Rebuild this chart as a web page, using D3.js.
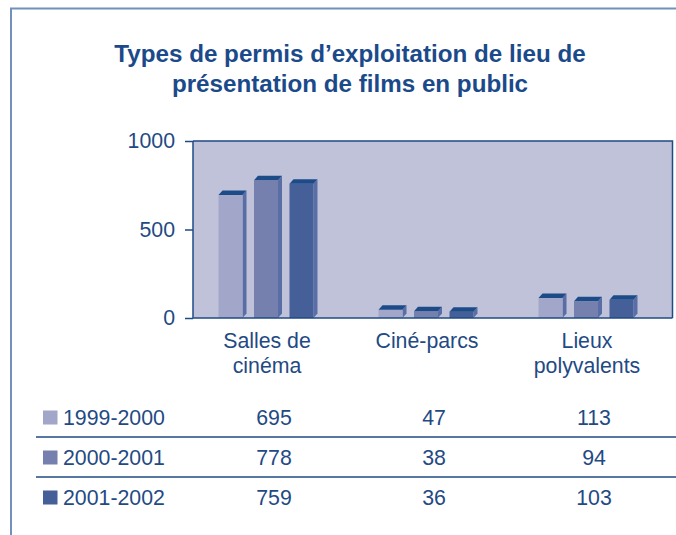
<!DOCTYPE html>
<html>
<head>
<meta charset="utf-8">
<script src="https://cdn.jsdelivr.net/npm/d3@7"></script>
<style>
  body { margin: 0; background: #fff; }
  svg { display: block; font-family: "Liberation Sans", Arial, Helvetica, sans-serif; }
</style>
</head>
<body>
<div id="chart"></div>
<script>
// data
var categories = ["Salles de cinéma", "Ciné-parcs", "Lieux polyvalents"];
var categoryLines = [["Salles de", "cinéma"], ["Ciné-parcs"], ["Lieux", "polyvalents"]];
var seasons = ["1999-2000", "2000-2001", "2001-2002"];
var values1999 = [695, 47, 113];
var values2000 = [778, 38, 94];
var values2001 = [759, 36, 103];
var yTicks = [0, 500, 1000];

var series = [values1999, values2000, values2001];

var W = 676, H = 535;
var ink = "#1f4a84";
var fs = "21.3px";
var color = d3.scaleOrdinal().domain(seasons).range(["#a2a6c9", "#7680ae", "#455f98"]);
var sideColor = "#5a6ea6", topColor = "#1d4b88";

var svg = d3.select("#chart").append("svg")
    .attr("width", W)
    .attr("height", H);

// outer frame (top + left)
svg.append("path")
    .attr("d", "M11,535 L11,8.5 L676,8.5")
    .attr("fill", "none")
    .attr("stroke", "#7190bb")
    .attr("stroke-width", 2);

// title
var title = svg.append("text")
    .attr("text-anchor", "middle")
    .attr("fill", "#1b4a8a")
    .style("font-weight", "bold")
    .style("font-size", "24.2px");
title.append("tspan").attr("x", 350).attr("y", 62).text("Types de permis d’exploitation de lieu de");
title.append("tspan").attr("x", 350).attr("y", 92).text("présentation de films en public");

var plot = {left: 193, right: 672.5, top: 141, bottom: 318};

var x0 = d3.scaleBand().domain(categories).range([186, 666]);
var x1 = d3.scalePoint().domain(seasons).range([-35.5, 35.5]);
var y = d3.scaleLinear().domain([0, 1000]).range([plot.bottom, plot.top]);

var barW = 24, dx = 4, dy = 4.5;

// plot background + border
svg.append("rect")
    .attr("x", plot.left).attr("y", plot.top)
    .attr("width", plot.right - plot.left).attr("height", plot.bottom - plot.top)
    .attr("fill", "#c0c2da");
svg.append("path")
    .attr("d", "M" + plot.left + "," + plot.top + " L" + plot.right + "," + plot.top +
               " L" + plot.right + "," + plot.bottom)
    .attr("fill", "none").attr("stroke", ink).attr("stroke-width", 1.5);

// bars with a little 3d look
seasons.forEach(function (s, j) {
    var g = svg.append("g").attr("class", "series");
    categories.forEach(function (c, i) {
        var v = series[j][i];
        var bx = x0(c) + x0.bandwidth() / 2 + x1(s) - barW / 2;
        var by = y(v), b0 = y(0);
        g.append("polygon")
            .attr("points", [[bx + barW, by], [bx + barW + dx, by - dy], [bx + barW + dx, b0 - dy], [bx + barW, b0]].join(" "))
            .attr("fill", sideColor);
        g.append("rect")
            .attr("x", bx).attr("y", by)
            .attr("width", barW).attr("height", b0 - by)
            .attr("fill", color(s));
        g.append("polygon")
            .attr("points", [[bx, by], [bx + dx, by - dy], [bx + barW + dx, by - dy], [bx + barW, by]].join(" "))
            .attr("fill", topColor);
    });
});

// y axis
var yAxis = svg.append("g")
    .attr("transform", "translate(" + plot.left + ",0)")
    .call(d3.axisLeft(y).tickValues(yTicks).tickFormat(d3.format("d"))
        .tickSize(8).tickSizeOuter(0).tickPadding(10));
yAxis.select(".domain").remove();
yAxis.selectAll(".tick line").attr("stroke", ink).attr("stroke-width", 1.5);
yAxis.selectAll(".tick text")
    .attr("fill", ink)
    .style("font-size", fs)
    .style("font-family", "'Liberation Sans', Arial, sans-serif");
svg.append("line")
    .attr("x1", plot.left).attr("x2", plot.left)
    .attr("y1", plot.top).attr("y2", plot.bottom)
    .attr("stroke", ink).attr("stroke-width", 1.5);
svg.append("line")
    .attr("x1", plot.left).attr("x2", plot.right)
    .attr("y1", plot.bottom).attr("y2", plot.bottom)
    .attr("stroke", ink).attr("stroke-width", 1.5);

// category labels
categories.forEach(function (c, i) {
    var t = svg.append("text")
        .attr("text-anchor", "middle")
        .attr("fill", ink)
        .style("font-size", fs);
    categoryLines[i].forEach(function (line, k) {
        t.append("tspan")
            .attr("x", x0(c) + x0.bandwidth() / 2 + 1)
            .attr("y", 348 + k * 24.5)
            .text(line);
    });
});

// data table under the chart
var rowY = d3.scalePoint().domain(seasons).range([425, 505]);

seasons.forEach(function (s, j) {
    var base = rowY(s);
    svg.append("rect")
        .attr("x", 43).attr("y", base - 14.5)
        .attr("width", 14.5).attr("height", 14)
        .attr("fill", color(s));
    svg.append("text")
        .attr("x", 63).attr("y", base)
        .attr("fill", ink)
        .style("font-size", fs)
        .text(s);
    categories.forEach(function (c, i) {
        svg.append("text")
            .attr("x", x0(c) + x0.bandwidth() / 2 + 8)
            .attr("y", base)
            .attr("text-anchor", "middle")
            .attr("fill", ink)
            .style("font-size", fs)
            .text(series[j][i]);
    });
    if (j < seasons.length - 1) {
        svg.append("line")
            .attr("x1", 36).attr("x2", 676)
            .attr("y1", base + 12).attr("y2", base + 12)
            .attr("stroke", ink).attr("stroke-width", 1.5);
    }
});
</script>
</body>
</html>
